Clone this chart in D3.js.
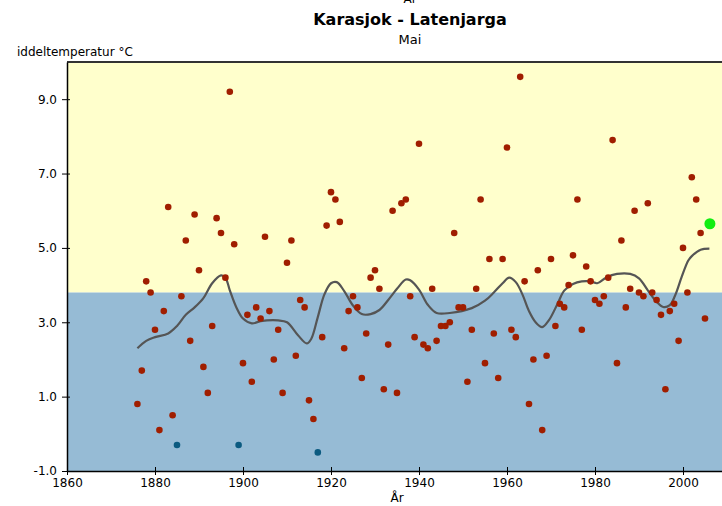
<!DOCTYPE html>
<html>
<head>
<meta charset="utf-8">
<script src="https://cdn.jsdelivr.net/npm/d3@7"></script>
<style>
  body { margin: 0; background: #fff; }
  svg { display: block; font-family: "DejaVu Sans", sans-serif; }
</style>
</head>
<body>
<svg></svg>
<script>
const size = { w: 722, h: 506 };
const margin = { t: 62, l: 67, b: 35 };

// yearly May mean temperature, Karasjok
const startYear = 1876;
const temps = [
	0.8, 1.7, 4.1, 3.8, 2.8, 0.1, 3.3, 6.1, 0.5, -0.3, // 1876-1885
	3.7, 5.2, 2.5, 5.9, 4.4, 1.8, 1.1, 2.9, 5.8, 5.4, // 1886-1895
	4.2, 9.2, 5.1, -0.3, 1.9, 3.2, 1.4, 3.4, 3.1, 5.3, // 1896-1905
	3.3, 2.0, 2.8, 1.1, 4.6, 5.2, 2.1, 3.6, 3.4, 0.9, // 1906-1915
	0.4, -0.5, 2.6, 5.6, 6.5, 6.3, 5.7, 2.3, 3.3, 3.7, // 1916-1925
	3.4, 1.5, 2.7, 4.2, 4.4, 3.9, 1.2, 2.4, 6.0, 1.1, // 1926-1935
	6.2, 6.3, 3.7, 2.6, 7.8, 2.4, 2.3, 3.9, 2.5, 2.9, // 1936-1945
	2.9, 3.0, 5.4, 3.4, 3.4, 1.4, 2.8, 3.9, 6.3, 1.9, // 1946-1955
	4.7, 2.7, 1.5, 4.7, 7.7, 2.8, 2.6, 9.6, 4.1, 0.8, // 1956-1965
	2.0, 4.4, 0.1, 2.1, 4.7, 2.9, 3.5, 3.4, 4.0, 4.8, // 1966-1975
	6.3, 2.8, 4.5, 4.1, 3.6, 3.5, 3.7, 4.2, 7.9, 1.9, // 1976-1985
	5.2, 3.4, 3.9, 6.0, 3.8, 3.7, 6.2, 3.8, 3.6, 3.2, // 1986-1995
	1.2, 3.3, 3.5, 2.5, 5.0, 3.8, 6.9, 6.3, 5.4, 3.1, // 1996-2005
	5.65 // 2006
];

// smoothed curve
const smoothYears = [1876, 1878, 1880, 1883, 1885, 1887, 1889, 1891, 1893, 1895, 1896, 1897, 1898.5, 1900, 1902, 1904, 1908, 1910, 1912.5, 1914.5, 1915.5, 1917, 1918.5, 1920, 1921.3, 1923, 1925, 1927, 1929, 1931, 1933, 1935, 1937, 1938, 1940, 1942, 1944, 1947, 1952, 1955, 1957, 1959, 1960.5, 1962, 1963.5, 1965, 1966.5, 1968, 1969.5, 1971.5, 1973, 1975, 1977, 1979, 1980.5, 1982.5, 1985, 1988, 1990, 1992, 1994, 1995.5, 1997, 1998.2, 1999.7, 2001.2, 2002, 2004, 2006];
const smoothVals = [2.3, 2.5, 2.6, 2.7, 2.9, 3.2, 3.4, 3.65, 4.05, 4.26, 4.2, 3.86, 3.4, 3.1, 2.97, 3.03, 3.05, 3.0, 2.65, 2.43, 2.55, 3.14, 3.75, 4.05, 4.08, 3.84, 3.45, 3.22, 3.22, 3.33, 3.6, 3.9, 4.15, 4.13, 3.88, 3.47, 3.25, 3.25, 3.38, 3.58, 3.8, 4.05, 4.2, 4.08, 3.75, 3.3, 3.0, 2.87, 3.05, 3.5, 3.85, 4.03, 4.1, 4.1, 4.05, 4.2, 4.3, 4.3, 4.18, 3.86, 3.55, 3.41, 3.46, 3.72, 4.22, 4.66, 4.78, 4.95, 4.98];

const meanTemp = 3.8;
const yTicks = [-1, 1, 3, 5, 7, 9];
const xTicks = [1860, 1880, 1900, 1920, 1940, 1960, 1980, 2000];

const svg = d3.select("svg").attr("width", size.w).attr("height", size.h);

let x = d3.scaleLinear().domain([1860, 2010]).range([margin.l, margin.l + 150 * 4.4]);
let y = d3.scaleLinear().domain([-1, 10]).range([size.h - margin.b, margin.t]);

let data = temps.map((v, i) => ({ year: startYear + i, value: v }));
let last = data[data.length - 1];

// background split at the mean
svg.append("rect")
	.attr("x", x(1860)).attr("y", y(10))
	.attr("width", x(2010) - x(1860)).attr("height", y(meanTemp) - y(10))
	.attr("fill", "#ffffcc");
svg.append("rect")
	.attr("x", x(1860)).attr("y", y(meanTemp))
	.attr("width", x(2010) - x(1860)).attr("height", y(-1) - y(meanTemp))
	.attr("fill", "#96bbd5");

// top frame line
svg.append("line")
	.attr("x1", x(1860)).attr("x2", x(2010))
	.attr("y1", y(10)).attr("y2", y(10))
	.attr("stroke", "#333").attr("stroke-width", 2);

// smoothed line
let line = d3.line()
	.x((d, i) => x(smoothYears[i]))
	.y((d) => y(d))
	.curve(d3.curveCatmullRom);
svg.append("path")
	.attr("d", line(smoothVals))
	.attr("fill", "none")
	.attr("stroke", "#555")
	.attr("stroke-width", 2.2);

// yearly points
svg.selectAll("circle.pt")
	.data(data.slice(0, -1))
	.enter()
	.append("circle")
	.classed("pt", true)
	.attr("cx", (d) => x(d.year))
	.attr("cy", (d) => y(d.value))
	.attr("r", 3.3)
	.attr("fill", (d) => (d.value < 0 ? "#0b5a80" : "#a01e00"));

svg.append("circle")
	.attr("cx", x(last.year) + 0.5)
	.attr("cy", y(last.value))
	.attr("r", 5.5)
	.attr("fill", "#11ee11");

// axes
let yAxis = d3.axisLeft(y)
	.tickValues(yTicks)
	.tickFormat((d) => d.toFixed(1))
	.tickSizeInner(5)
	.tickSizeOuter(0);
let yG = svg.append("g").attr("transform", `translate(${x(1860)},0)`).call(yAxis);
yG.select(".domain").attr("stroke", "#000").attr("stroke-width", 1.5);
yG.selectAll(".tick line").attr("x2", -5).attr("x1", 3).attr("stroke", "#000");
yG.selectAll(".tick text")
	.attr("x", -10)
	.style("font-size", "12px")
	.style("font-family", "DejaVu Sans")
	.attr("fill", "#000");

let xAxis = d3.axisBottom(x)
	.tickValues(xTicks)
	.tickFormat(d3.format("d"))
	.tickSizeInner(4)
	.tickSizeOuter(0);
let xG = svg.append("g").attr("transform", `translate(0,${y(-1)})`).call(xAxis);
xG.select(".domain").attr("stroke", "#000").attr("stroke-width", 1.5);
xG.selectAll(".tick line").attr("y1", -4).attr("y2", 4).attr("stroke", "#000");
xG.selectAll(".tick text")
	.attr("y", 7)
	.style("font-size", "12px")
	.style("font-family", "DejaVu Sans")
	.attr("fill", "#000");

// texts (the top one is cut off in the original too)
svg.append("text")
	.attr("x", 410).attr("y", 3)
	.attr("text-anchor", "middle")
	.style("font-size", "12px")
	.text("År");
svg.append("text")
	.attr("x", 410).attr("y", 25)
	.attr("text-anchor", "middle")
	.style("font-size", "16px")
	.style("font-weight", "bold")
	.text("Karasjok - Latenjarga");
svg.append("text")
	.attr("x", 410).attr("y", 44)
	.attr("text-anchor", "middle")
	.style("font-size", "13px")
	.text("Mai");
svg.append("text")
	.attr("x", 17).attr("y", 56)
	.style("font-size", "12px")
	.text("iddeltemperatur °C");
svg.append("text")
	.attr("x", 397).attr("y", 502)
	.attr("text-anchor", "middle")
	.style("font-size", "12px")
	.text("År");
</script>
</body>
</html>
